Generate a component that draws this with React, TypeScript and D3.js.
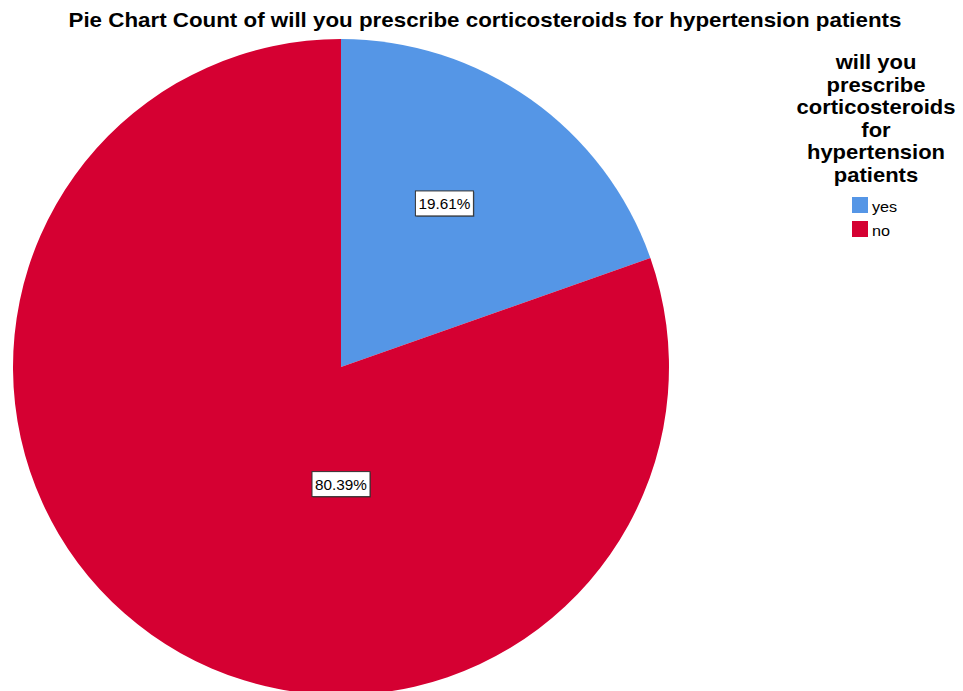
import React from "react";
import * as d3 from "d3";

const categories = ["yes", "no"];
const percents = [19.61, 80.39];
const colors = ["#5596e6", "#d50032"];
const titleText = "Pie Chart Count of will you prescribe corticosteroids for hypertension patients";
const legendTitleLines = ["will you", "prescribe", "corticosteroids", "for", "hypertension", "patients"];
// label placement (degrees clockwise from top, fraction of radius)
const labelAngles = [32.3, 180];
const labelRadiusFrac = [0.59, 0.357];

const W = 963;
const H = 691;
const cx = 341;
const cy = 367;
const R = 328;

export default function App() {
  const pie = d3.pie<number>().sort(null).value((d) => d)(percents);
  const arc = d3.arc<d3.PieArcDatum<number>>().innerRadius(0).outerRadius(R);
  const fmt = (v: number) => v.toFixed(2) + "%";
  const font = "'Liberation Sans', Arial, Helvetica, sans-serif";
  const lx = 876;
  return (
    <svg width={W} height={H} style={{ position: "absolute", left: 0, top: 0, display: "block" }} fontFamily={font}>
      <rect x={0} y={0} width={W} height={H} fill="#ffffff" />
      <text x={485} y={27} textAnchor="middle" fontSize={21} fontWeight="bold" textLength={833} lengthAdjust="spacingAndGlyphs" fill="#000">
        {titleText}
      </text>
      <g transform={`translate(${cx},${cy})`}>
        {pie.map((p, i) => (
          <path key={categories[i]} d={arc(p) || ""} fill={colors[i]} />
        ))}
        {pie.map((p, i) => {
          const a = (labelAngles[i] * Math.PI) / 180;
          const r = labelRadiusFrac[i] * R;
          const x = r * Math.sin(a);
          const y = -r * Math.cos(a);
          const bw = 58;
          const bh = 25;
          return (
            <g key={"l" + i} transform={`translate(${x},${y})`}>
              <rect x={-bw / 2 + 1} y={-bh / 2 + 1} width={bw} height={bh} fill="#333" opacity={0.5} />
              <rect x={-bw / 2} y={-bh / 2} width={bw} height={bh} fill="#fff" stroke="#333" strokeWidth={1} />
              <text x={0} y={5.5} textAnchor="middle" fontSize={15} fill="#000" transform="scale(1.02,1)">
                {fmt(percents[i])}
              </text>
            </g>
          );
        })}
      </g>
      <g>
        {legendTitleLines.map((t, i) => (
          <text key={t} transform={`translate(${lx},${69 + i * 22.5}) scale(1.1,1)`} textAnchor="middle" fontSize={20} fontWeight="bold" fill="#000">
            {t}
          </text>
        ))}
        {categories.map((c, i) => (
          <g key={c} transform={`translate(852,${197 + i * 24})`}>
            <rect x={0} y={0} width={16} height={16} fill={colors[i]} />
            <text transform="translate(20,15) scale(1.08,1)" fontSize={15} fill="#000">
              {c}
            </text>
          </g>
        ))}
      </g>
    </svg>
  );
}
